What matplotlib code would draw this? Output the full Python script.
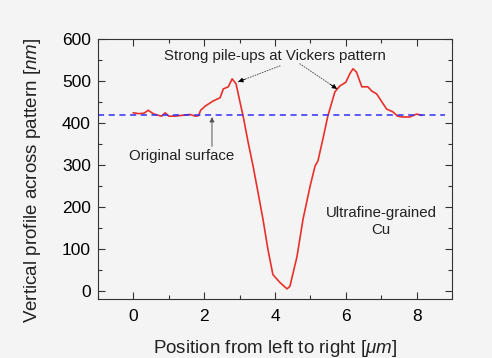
import numpy as np
import matplotlib
matplotlib.use('Agg')
import matplotlib.pyplot as plt
from matplotlib.ticker import MultipleLocator

plt.rcParams['font.family'] = ['Liberation Sans', 'DejaVu Sans']
plt.rcParams['mathtext.fontset'] = 'custom'
plt.rcParams['mathtext.rm'] = 'Liberation Sans'
plt.rcParams['mathtext.it'] = 'Liberation Sans:italic'

# profile measured across the indent (position in um, height in nm)
position = [0, 0.15, 0.3, 0.42, 0.56, 0.7, 0.8, 0.9, 1.0, 1.18, 1.38, 1.6, 1.75,
            1.84, 1.9, 2.03, 2.25, 2.45, 2.54, 2.68, 2.79, 2.9, 3.01, 3.1, 3.24,
            3.38, 3.52, 3.66, 3.8, 3.94, 4.14, 4.34, 4.42, 4.62, 4.79, 4.99, 5.13,
            5.21, 5.35, 5.49, 5.69, 5.83, 6.0, 6.11, 6.2, 6.3, 6.45, 6.62, 6.73,
            6.87, 7.0, 7.15, 7.33, 7.46, 7.6, 7.8, 8.0, 8.14]
height = [424, 422, 423, 430, 422, 418, 416, 424, 416, 416, 418, 420, 416,
          417, 430, 440, 452, 460, 481, 486, 505, 493, 450, 416, 354,
          297, 234, 170, 98, 38, 19, 4, 10, 81, 170, 249, 297,
          309, 361, 416, 474, 488, 497, 517, 529, 521, 486, 486, 476,
          469, 452, 433, 426, 416, 414, 414, 421, 418]
surface_level = 418

bg = '#f4f4f4'
fig = plt.figure(figsize=(4.92, 3.58), dpi=100, facecolor=bg)
ax = fig.add_axes([0.199, 0.165, 0.72, 0.726], facecolor=bg)

ax.plot(position, height, color='#e8302a', lw=1.2)
ax.plot([-1, 8.8], [surface_level, surface_level], color='#3030ff', lw=1.1,
        linestyle=(0, (4, 3)))

ax.set_xlim(-1, 9)
ax.set_ylim(-20, 600)
ax.xaxis.set_major_locator(MultipleLocator(2))
ax.xaxis.set_minor_locator(MultipleLocator(1))
ax.yaxis.set_major_locator(MultipleLocator(100))
ax.yaxis.set_minor_locator(MultipleLocator(50))
ax.tick_params(which='both', direction='in', top=True, right=True,
               color='#333333', width=0.8)
ax.tick_params(which='major', length=5, labelsize=12.5)
ax.tick_params(axis='x', which='major', pad=7)
ax.tick_params(axis='y', which='major', pad=5)
ax.tick_params(which='minor', length=3)
for s in ax.spines.values():
    s.set_color('#333333')
    s.set_linewidth(0.8)

ax.set_xlabel(r'Position from left to right [$\mathit{\mu m}$]', fontsize=13.5,
              color='#222222', labelpad=10)
ax.set_ylabel(r'Vertical profile across pattern [$\mathit{nm}$]', fontsize=13.5,
              color='#222222')
ax.yaxis.set_label_coords(-0.155, 0.455)

# pile-up labels with dotted leaders
ax.text(4.0, 560, 'Strong pile-ups at Vickers pattern', ha='center', va='center',
        fontsize=10.8, color='#222222')
for tail, tip, back in [((4.14, 536), (2.96, 498), (3.15, 504)),
                        ((4.7, 541), (5.75, 481), (5.56, 492))]:
    ax.annotate('', xy=tip, xytext=tail,
                arrowprops=dict(arrowstyle='-', color='#555555', lw=0.7,
                                linestyle=':', shrinkA=0, shrinkB=0))
    ax.annotate('', xy=tip, xytext=back,
                arrowprops=dict(arrowstyle='-|>', color='black', lw=0.6,
                                mutation_scale=7, shrinkA=0, shrinkB=0))

ax.text(1.35, 320, 'Original surface', ha='center', va='center',
        fontsize=10.8, color='#222222')
ax.annotate('', xy=(2.22, 414), xytext=(2.22, 344),
            arrowprops=dict(arrowstyle='-|>', color='#555555', lw=0.7,
                            mutation_scale=7, shrinkA=0, shrinkB=0))

ax.text(7.0, 165, 'Ultrafine-grained\nCu', ha='center', va='center',
        fontsize=10.8, color='#222222', linespacing=1.25)

fig.savefig('out.png', dpi=100, facecolor=bg)
